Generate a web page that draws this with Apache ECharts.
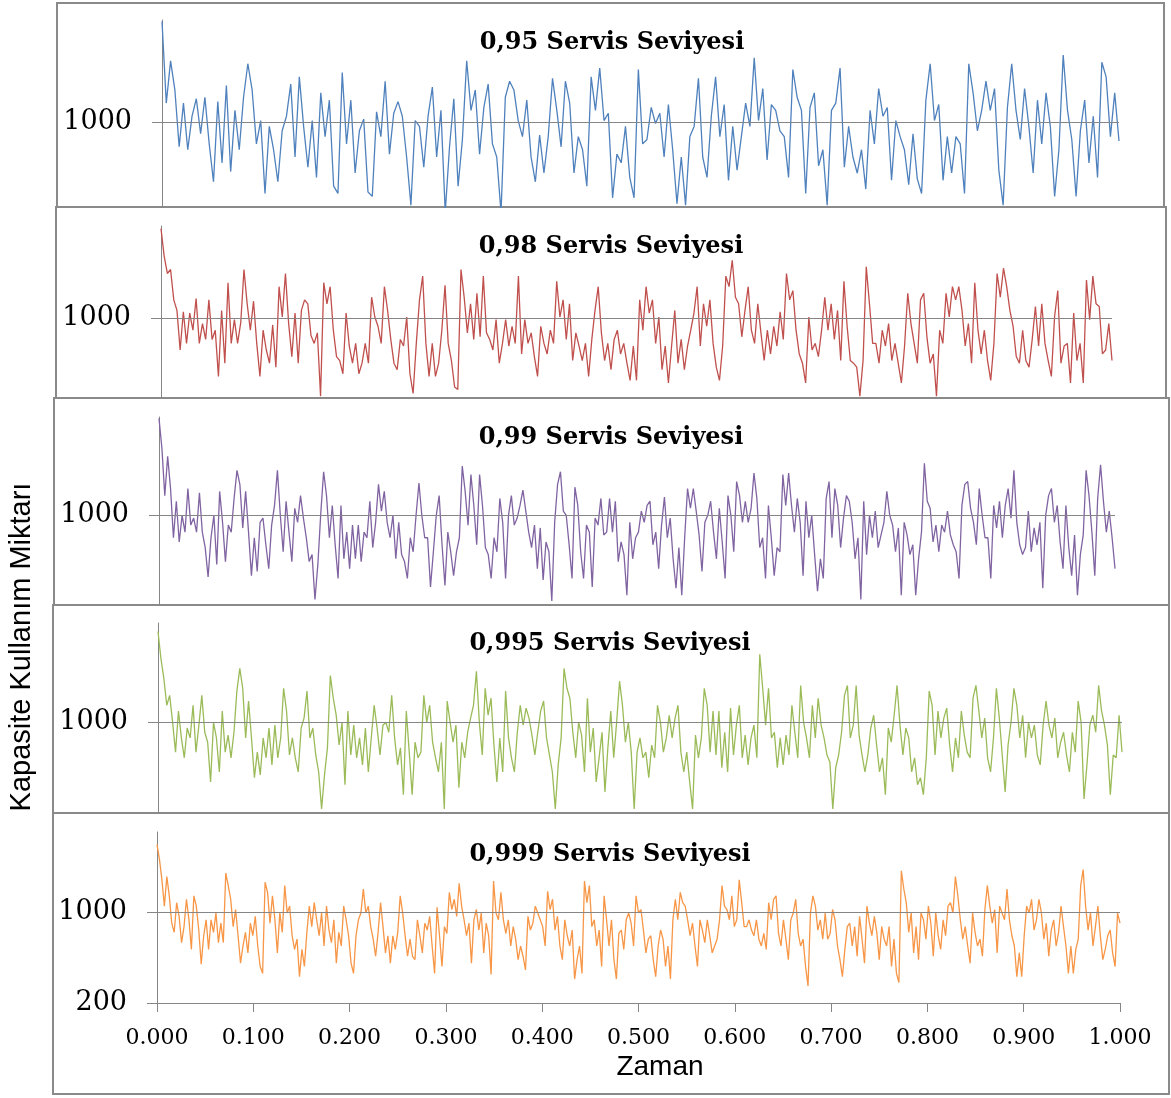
<!DOCTYPE html>
<html>
<head>
<meta charset="utf-8">
<script src="https://cdn.jsdelivr.net/npm/echarts@6/dist/echarts.min.js"></script>
<style>
html, body { margin: 0; padding: 0; background: #ffffff; }
#chart { width: 1171px; height: 1098px; }
</style>
</head>
<body>
<div id="chart"></div>
<script>
// Kapasite kullanımı, servis seviyesine göre (zaman 0..1 aralığında eşit adımlı)
const level095 = [
  1690,1130,1420,1220,830,1130,810,1040,1160,920,
  1170,850,590,1140,720,1250,660,1080,810,1170,
  1400,1220,850,1010,510,970,810,590,940,1040,
  1260,760,1310,970,690,1010,620,1200,900,1150,
  560,510,1340,850,1150,650,940,1020,520,490,
  1070,900,1280,780,1060,1140,1040,760,430,1010,
  970,690,1040,1240,760,1080,380,830,1160,560,
  880,1420,1080,1220,780,1100,1260,850,760,380,
  1170,1280,1220,1010,900,1150,760,590,910,650,
  900,1300,1080,830,1280,1130,650,900,810,560,
  1310,1080,1370,1010,1060,480,780,720,970,620,
  480,1360,850,
  880,1100,990,1060,760,1120,810,440,760,430,
  900,970,1300,760,620,1040,1310,900,1120,600,
  970,670,900,1130,970,1440,1010,1230,740,1120,
  1080,940,900,620,1360,1170,1080,510,1100,1200,
  700,810,430,1080,1130,1370,690,970,760,650,
  810,540,1080,850,1230,1040,1100,600,1010,900,
  810,570,920,610,510,1150,1400,1010,1120,600,
  900,650,900,850,510,1400,1200,940,1080,1280,
  1080,1230,670,430,1100,1400,1080,880,1230,970,
  650,1150,850,1200,970,490,810,1460,1080,880,
  490,940,1150,720,1040,620,1410,1310,900,1200,
  870
];

const level098 = [
  1680,1470,1340,1370,1140,1060,760,1050,810,1040,
  910,1150,810,960,840,1140,840,910,560,1060,
  660,1270,810,990,810,970,1370,1110,910,1130,
  810,560,910,760,660,950,630,1240,1010,1340,
  960,710,1040,660,1060,1140,1110,870,810,890,
  410,1270,1110,1240,910,710,680,580,1040,790,
  660,810,580,660,810,660,1160,1010,940,810,
  1240,1060,840,660,610,840,790,1010,580,430,
  810,1140,1320,810,560,810,560,660,910,1250,
  810,680,480,460,1370,1160,890,1110,840,1190,
  860,1320,890,840,760,990,660,810,990,790,
  940,810,1320,730,990,810,890,710,560,940,
  810,730,910,810,1280,1010,1140,840,1110,680,
  890,790,680,810,560,840,1060,1240,890,680,
  810,610,840,910,730,810,660,530,790,530,
  1140,910,1240,1040,1140,
  810,1010,610,790,510,790,1060,660,840,610,
  790,910,1040,1240,790,1110,940,1140,810,630,
  530,790,1320,1240,1440,1160,1110,860,1060,1240,
  910,810,1110,890,680,910,730,940,790,1050,
  840,1340,1140,1210,910,730,660,510,1010,760,
  810,710,910,1160,910,1110,840,1060,680,1280,
  940,680,660,630,410,680,1390,1110,810,810,
  660,910,790,960,680,810,660,510,790,1190,
  960,810,660,1140,1190,860,660,730,410,910,
  810,1190,1010,1240,1140,1240,1060,790,960,660,
  1270,910,730,910,680,530,810,1340,1160,1380,
  1240,1060,940,710,660,910,680,630,840,1090,
  790,1110,810,680,560,1010,1210,660,790,810,
  510,1040,680,810,510,1290,990,1320,1110,1090,
  730,760,960,680
];

const level099 = [
  1690,1480,1140,1420,1190,840,1100,810,1000,880,
  1190,930,980,880,1160,880,770,560,840,1000,
  650,1170,950,670,930,880,1120,1320,1220,910,
  1170,880,570,840,600,950,980,790,620,930,
  1070,1320,1000,740,1100,880,670,1050,950,1140,
  980,840,670,720,400,650,1010,1310,1140,840,
  1070,790,550,1070,690,880,620,930,690,930,
  670,880,840,1100,770,950,1220,1030,1170,950,
  840,1000,690,950,720,670,550,840,740,1000,
  1230,1000,840,840,490,740,1000,1140,790,500,
  880,740,570,740,840,1350,1170,930,1290,1070,
  790,1290,1070,770,720,550,840,740,1120,950,
  550,1000,1140,930,980,1070,1180,1030,880,770,
  930,620,910,540,810,740,390,950,1220,1310,
  1030,1000,790,550,1200,1070,740,550,930,880,
  490,980,930,1120,860,880,1120,880,1100,670,
  810,720,430,950,690,840,880,1030,950,1070,
  1100,790,
  880,620,930,1130,840,980,690,480,770,430,
  840,1190,1050,1190,1030,860,600,950,1000,1100,
  880,690,1050,810,550,1140,1000,740,1240,1140,
  950,1100,950,1050,1300,1120,770,840,550,1070,
  840,570,770,740,1290,1070,1300,1070,880,1120,
  950,570,1100,840,1000,720,460,690,550,1120,
  1240,840,1190,1070,770,980,1140,1100,950,690,
  840,400,1100,720,1000,840,1030,770,860,950,
  1170,1000,930,740,910,430,950,860,720,790,
  430,690,880,1370,1100,1050,810,930,740,930,
  880,1030,860,790,740,550,1070,1220,1240,1050,
  950,790,1190,1000,840,840,550,1070,910,1100,
  840,1070,1190,980,1320,950,790,720,770,1030,
  740,910,790,950,480,1000,1140,1190,950,1070,
  810,620,1070,770,570,860,430,720,860,1320,
  1140,880,570,1120,1360,1100,880,1030,840,620
];

const level0995 = [
  1640,1450,1310,1120,1190,1000,790,1080,890,750,
  960,890,1120,790,980,1190,930,860,580,1000,
  890,650,1080,790,910,750,930,1220,1380,1240,
  890,1150,890,610,790,630,890,750,960,700,
  980,750,890,1240,1080,770,890,750,650,960,
  1030,1220,890,960,770,650,390,630,820,1330,
  1170,1050,840,1000,560,1080,770,980,750,890,
  700,960,650,890,1120,960,770,980,1000,930,
  1190,890,700,820,490,1080,790,490,860,750,
  790,1190,1000,1120,860,750,650,860,390,1150,
  1000,860,980,540,860,750,930,1030,1120,1360,
  1000,770,1240,1050,1170,840,580,890,650,1220,
  890,750,650,930,1120,980,1100,1030,910,770,
  930,1080,1150,890,770,650,390,700,890,1380,
  1240,1170,930,750,1000,910,650,1170,790,960,
  580,750,930,510,820,1080,750,1000,1290,1120,
  860,1000,790,390,790,890,750,790,610,840,
  750,1120,1000,790,890,
  1050,890,1030,1120,790,650,790,580,390,910,
  750,890,1240,1120,790,1080,770,1080,680,930,
  650,1100,770,980,1120,750,910,700,890,980,
  750,1480,1240,980,1240,890,930,680,890,700,
  910,770,1120,930,750,1260,1000,890,750,1120,
  890,1170,980,890,770,720,390,680,770,930,
  1190,1260,890,980,1260,910,770,650,770,960,
  1050,840,650,750,490,960,860,1050,1260,980,
  770,960,890,650,750,560,610,490,750,1220,
  1120,770,1080,890,1030,1100,840,650,890,750,
  1080,910,790,750,1170,1260,1080,890,1030,750,
  650,890,1240,1030,770,510,840,1000,1240,1120,
  890,1050,750,1000,890,980,770,700,980,1150,
  980,890,1030,750,860,930,770,650,930,790,
  1150,1000,460,700,980,1050,930,1260,1080,980,
  840,490,770,750,1050,790
];

const level0999 = [
  1590,1460,1280,1050,1310,1140,900,820,1080,960,
  730,870,1110,930,670,1140,1050,840,540,790,
  930,670,930,820,990,730,900,730,1340,1230,
  1110,870,1020,790,550,700,820,640,900,790,
  960,700,520,460,1260,1170,900,1140,930,640,
  990,820,1230,990,1050,790,670,760,430,670,
  520,820,1050,870,1080,930,790,990,700,1050,
  840,730,930,550,820,700,1050,930,790,550,
  460,790,930,990,1200,990,1050,870,760,610,
  820,1080,870,640,790,550,790,670,820,1140,
  990,790,610,760,610,
  580,930,790,640,900,840,960,700,460,1040,
  790,520,870,810,1170,1020,1110,960,1250,1050,
  930,790,900,550,930,1020,840,990,640,900,
  790,450,1270,990,930,1170,930,810,930,700,
  870,760,580,700,610,490,960,840,900,1050,
  990,930,870,700,1180,1020,1110,840,960,700,
  580,930,790,700,840,410,580,700,460,1270,
  1080,1230,870,930,700,840,520,1140,930,700,
  930,580,410,810,840,670,930,990,900,700,
  1140,990,1020,840,640,760,790,580,430,700,
  840,760,520,700,410,930,1110,930,1170,1080,
  1050,930,790,900,700,520,930,840,730,930,
  790,640,700,760,930,1230,1050,1020,930,1140,
  870,930,1280,1080,870,870,930,840,790,930,
  760,700,810,670,1080,930,1110,1140,810,700,
  930,760,580,930,990,1110,810,700,760,520,
  350,990,1140,1050,840,930,760,990,760,810,
  1020,930,700,580,430,670,870,
  900,700,870,610,960,760,550,1050,900,790,
  960,820,580,870,760,700,870,520,760,460,
  380,1360,1200,1080,820,990,640,870,580,990,
  930,760,1050,900,610,990,790,670,930,790,
  1050,1080,990,1310,1140,930,760,870,700,550,
  990,820,700,760,610,1020,1230,1050,900,1020,
  640,1050,990,930,1200,930,790,700,430,640,
  430,790,1050,990,1110,840,930,1110,990,760,
  900,610,840,930,700,820,1050,870,700,460,
  700,460,670,760,1230,1370,1050,840,990,700,
  870,1050,790,580,670,790,840,640,520,990,
  900
];

const panelTitles = ['0,95 Servis Seviyesi', '0,98 Servis Seviyesi', '0,99 Servis Seviyesi', '0,995 Servis Seviyesi', '0,999 Servis Seviyesi'];
const yLabelValues = [[1000], [1000], [1000], [1000], [200, 1000]];
const referenceLevel = 1000;
const yTop = 1700;
const xTickLabels = ['0.000','0.100','0.200','0.300','0.400','0.500','0.600','0.700','0.800','0.900','1.000'];
const yAxisTitle = 'Kapasite Kullanım Miktarı';
const xAxisTitle = 'Zaman';

// layout of the five stacked panels
const layout = [
  { values: level095,  color: '#4F81BD', box: [57, 3, 1164, 207],   grid: { left: 162, top: 20,  right: 52, bottom: 891 }, yMin: 417, titleX: 612, titleY: 43 },
  { values: level098,  color: '#C0504D', box: [56, 207, 1166, 398], grid: { left: 161, top: 226, right: 59, bottom: 700 }, yMin: 396, titleX: 611, titleY: 247 },
  { values: level099,  color: '#8064A2', box: [54, 398, 1169, 605], grid: { left: 159, top: 417, right: 56, bottom: 493 }, yMin: 361, titleX: 611, titleY: 438 },
  { values: level0995, color: '#9BBB59', box: [53, 605, 1169, 813], grid: { left: 158, top: 623, right: 49, bottom: 285 }, yMin: 361, titleX: 610, titleY: 644 },
  { values: level0999, color: '#F79646', box: [53, 813, 1169, 1094], grid: { left: 157, top: 832, right: 51, bottom: 95 }, yMin: 200, titleX: 610, titleY: 855 }
];

const axisGray = '#868686';
const boxGray = '#8a8a8a';

const toPoints = arr => arr.map((v, i) => [i / (arr.length - 1), v]);

const graphics = [];
layout.forEach((p, i) => {
  graphics.push({
    type: 'rect', silent: true, z: 0,
    shape: { x: p.box[0], y: p.box[1], width: p.box[2] - p.box[0], height: p.box[3] - p.box[1] },
    style: { fill: 'none', stroke: boxGray, lineWidth: 2 }
  });
  graphics.push({
    type: 'text', silent: true, z: 10, x: p.titleX, y: p.titleY,
    style: { text: panelTitles[i], fill: '#000', font: 'bold 24px "DejaVu Serif"', textAlign: 'center', textVerticalAlign: 'middle' }
  });
});
graphics.push({
  type: 'text', silent: true, x: 22, y: 647, rotation: Math.PI / 2,
  style: { text: yAxisTitle, fill: '#000', font: '29px "Liberation Sans"', textAlign: 'center', textVerticalAlign: 'middle' }
});
graphics.push({
  type: 'text', silent: true, x: 660, y: 1067,
  style: { text: xAxisTitle, fill: '#000', font: '28px "Liberation Sans"', textAlign: 'center', textVerticalAlign: 'middle' }
});

const chart = echarts.init(document.getElementById('chart'), null, { renderer: 'canvas' });
chart.setOption({
  animation: false,
  backgroundColor: '#ffffff',
  grid: layout.map(p => Object.assign({ containLabel: false }, p.grid)),
  xAxis: layout.map((p, i) => ({
    gridIndex: i, type: 'value', min: 0, max: 1, interval: 0.1,
    show: i === layout.length - 1,
    axisLine: { show: true, onZero: false, lineStyle: { color: axisGray, width: 1 } },
    axisTick: { show: true, length: 9, lineStyle: { color: axisGray } },
    axisLabel: {
      margin: 24, color: '#000', fontFamily: 'DejaVu Serif', fontSize: 22,
      formatter: v => xTickLabels[Math.round(v * 10)]
    },
    splitLine: { show: false }
  })),
  yAxis: layout.map((p, i) => ({
    gridIndex: i, type: 'value', min: p.yMin, max: yTop,
    axisLine: { show: true, lineStyle: { color: axisGray, width: 1 } },
    axisTick: { show: true, customValues: yLabelValues[i], length: 10, lineStyle: { color: axisGray } },
    axisLabel: {
      customValues: yLabelValues[i], margin: 30, color: '#000', fontFamily: 'DejaVu Serif', fontSize: 27,
      formatter: v => String(v)
    },
    splitLine: { show: false }
  })),
  series: layout.map((p, i) => ({
    type: 'line', xAxisIndex: i, yAxisIndex: i,
    data: toPoints(p.values),
    symbol: 'none', showSymbol: false, clip: true, silent: true,
    lineStyle: { color: p.color, width: 1.3 },
    itemStyle: { color: p.color },
    markLine: {
      silent: true, symbol: ['none', 'none'], animation: false,
      label: { show: false },
      lineStyle: { color: axisGray, width: 1, type: 'solid' },
      emphasis: { disabled: true },
      data: [{ yAxis: referenceLevel }]
    }
  })),
  graphic: graphics
});
</script>
</body>
</html>
